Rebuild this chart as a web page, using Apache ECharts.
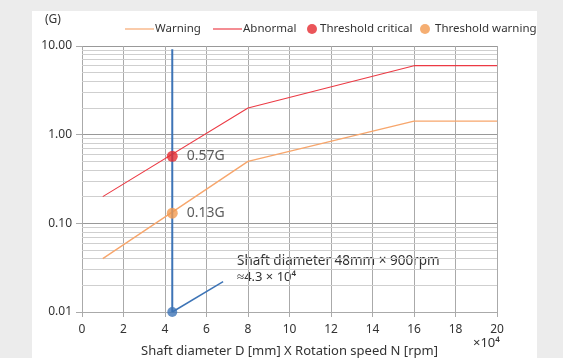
<!DOCTYPE html>
<html><head><meta charset="utf-8">
<script src="https://cdn.jsdelivr.net/npm/echarts@6/dist/echarts.min.js"></script>
<style>html,body{margin:0;padding:0;background:#ececec;}#wrap{position:absolute;left:32px;top:11px;width:505px;height:347px;background:#fff;}#c{position:absolute;left:0;top:0;width:563px;height:358px;}</style>
</head><body><div id="wrap"></div><div id="c"></div>
<script>
// Data
const warningLine = [[1, 0.04], [8, 0.5], [16, 1.42], [20, 1.42]];
const abnormalLine = [[1, 0.2], [8, 2], [16, 6], [20, 6]];
const thresholdCritical = [[4.35, 0.57]];
const thresholdWarning = [[4.35, 0.13]];
const criticalLabel = '0.57G';
const warningLabel = '0.13G';
const shaftLine = [[4.35, 0.01], [4.35, 9.2]];
const pointerLine = [[4.35, 0.01], [6.8, 0.022]];
const shaftPoint = [[4.35, 0.01]];
const minorLevels = [0.02,0.03,0.04,0.05,0.06,0.07,0.08,0.09,0.2,0.3,0.4,0.5,0.6,0.7,0.8,0.9,2,3,4,5,6,7,8,9];
const xTitle = 'Shaft diameter D [mm] X Rotation speed N [rpm]';
const legendNames = ['Warning', 'Abnormal', 'Threshold critical', 'Threshold warning'];

const FONT = 'Noto Sans';
const chart = echarts.init(document.getElementById('c'), null, {renderer: 'canvas'});
const orange = '#f7a66c', red = '#ec3a44', blue = '#3d74b6', orangeDot = '#f39a4f', redDot = '#e52a30';
const lineIcon = 'path://M0,5L30,5L30,6.2L0,6.2Z';
const legTxt = {fontSize: 11.5, color: '#333', fontFamily: FONT};
const legBase = {top: 23, padding: 0, itemHeight: 10};
chart.setOption({
  backgroundColor: 'transparent',
  animation: false,
  textStyle: {fontFamily: FONT},
  grid: {left: 82, right: 66, top: 46, bottom: 46, outerBoundsMode: 'none'},
  legend: [
    Object.assign({left: 125, itemWidth: 29, textStyle: Object.assign({padding: [0,0,0,-4]}, legTxt), data: [{name: legendNames[0], icon: lineIcon}]}, legBase),
    Object.assign({left: 213, itemWidth: 29, textStyle: Object.assign({padding: [0,0,0,-4]}, legTxt), data: [{name: legendNames[1], icon: lineIcon}]}, legBase),
    Object.assign({left: 307, itemWidth: 10, textStyle: Object.assign({padding: [0,0,0,-2]}, legTxt), data: [{name: legendNames[2], icon: 'circle'}]}, legBase),
    Object.assign({left: 420, itemWidth: 10, textStyle: Object.assign({padding: [0,0,0,0]}, legTxt), data: [{name: legendNames[3], icon: 'circle'}]}, legBase)
  ],
  xAxis: {
    type: 'value', min: 0, max: 20, interval: 2,
    axisLine: {show: true, lineStyle: {color: '#aaa'}},
    axisTick: {show: true, length: 5, lineStyle: {color: '#aaa'}},
    axisLabel: {fontSize: 12, color: '#333', margin: 12},
    splitLine: {show: true, lineStyle: {color: '#aaa', width: 1}},
    name: xTitle, nameLocation: 'middle', nameGap: 33,
    nameTextStyle: {fontSize: 13, color: '#333'}
  },
  yAxis: {
    type: 'log', logBase: 10, min: 0.01, max: 10,
    axisLine: {show: false},
    axisTick: {show: true, length: 6, lineStyle: {color: '#aaa'}},
    axisLabel: {fontSize: 12, color: '#333', margin: 10, formatter: v => v.toFixed(2)},
    splitLine: {show: true, lineStyle: {color: '#999', width: 1}}
  },
  graphic: [
    {type: 'text', left: 45, top: 14, style: {text: '(G)', fontSize: 12, fill: '#333', fontFamily: FONT}},
    {type: 'text', left: 473, top: 337, style: {text: '×10⁴', fontSize: 13, fill: '#333', fontFamily: FONT}},
    {type: 'text', left: 237, top: 254, style: {text: 'Shaft diameter 48mm × 900rpm', fontSize: 13.5, fill: '#333', fontFamily: FONT}},
    {type: 'text', left: 237, top: 271, style: {text: '≈4.3 × 10⁴', fontSize: 13, fill: '#333', fontFamily: FONT}}
  ],
  series: [
    {type: 'line', name: 'minor', data: [], silent: true, z: 1, markLine: {z: 1, silent: true, symbol: 'none', label: {show: false},
      lineStyle: {color: '#cfcfcf', type: 'solid', width: 1}, data: minorLevels.map(v => ({yAxis: v}))}},
    {type: 'line', name: 'Warning', data: warningLine, showSymbol: false, lineStyle: {color: orange, width: 1.4}, itemStyle: {color: orange}, z: 3},
    {type: 'line', name: 'Abnormal', data: abnormalLine, showSymbol: false, lineStyle: {color: red, width: 1.1}, itemStyle: {color: red}, z: 3},
    {type: 'line', name: 'shaft', data: shaftLine, showSymbol: false, lineStyle: {color: blue, width: 2}, z: 6},
    {type: 'line', name: 'pointer', data: pointerLine, showSymbol: false, lineStyle: {color: blue, width: 1.5}, z: 6},
    {type: 'scatter', name: 'shaftPt', data: shaftPoint, symbolSize: 10, itemStyle: {color: blue}, z: 7},
    {type: 'scatter', name: legendNames[2], data: thresholdCritical, symbolSize: 11, itemStyle: {color: redDot}, z: 7,
      label: {show: true, position: 'right', distance: 9, formatter: criticalLabel, fontSize: 14, color: '#333'}},
    {type: 'scatter', name: legendNames[3], data: thresholdWarning, symbolSize: 11, itemStyle: {color: orangeDot}, z: 7,
      label: {show: true, position: 'right', distance: 9, formatter: warningLabel, fontSize: 14, color: '#333'}}
  ]
});
</script></body></html>
